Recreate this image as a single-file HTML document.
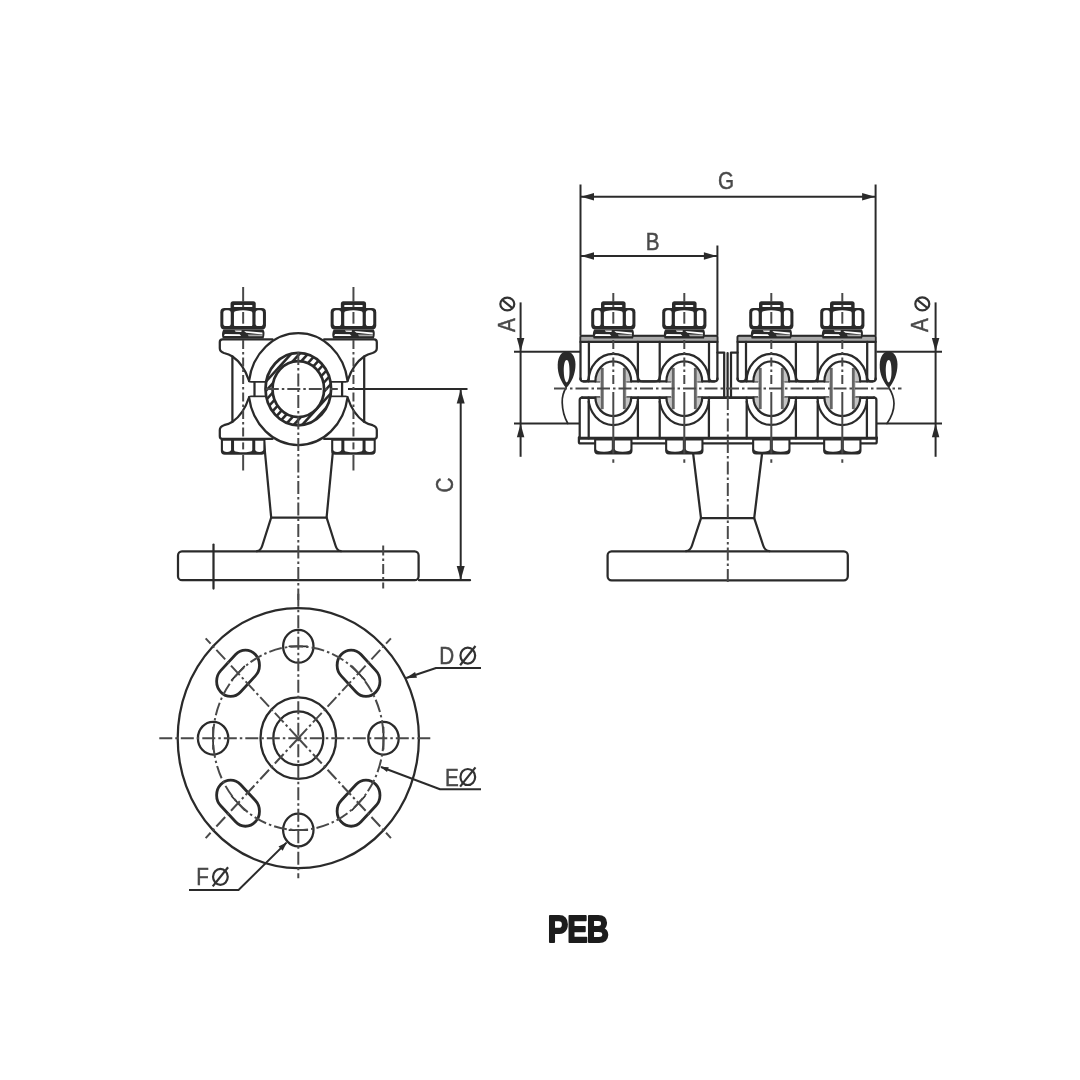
<!DOCTYPE html>
<html><head><meta charset="utf-8"><title>PEB</title>
<style>
html,body{margin:0;padding:0;background:#fff;}
body{width:1080px;height:1080px;overflow:hidden;font-family:"Liberation Sans",sans-serif;}
svg{display:block;}
.m{fill:none;stroke:#2b2b2b;stroke-width:2.25;stroke-linecap:round;stroke-linejoin:round;}
.mb{fill:#fff;stroke:#2b2b2b;stroke-width:2.3;stroke-linecap:round;stroke-linejoin:round;}
.s{fill:none;stroke:#2b2b2b;stroke-width:1.7;stroke-linecap:round;}
.m2{fill:none;stroke:#2b2b2b;stroke-width:2.9;stroke-linecap:round;}
.sg{fill:none;stroke:#666;stroke-width:2.8;}
.g2{fill:#c4c4c4;stroke:none;}
.h{fill:none;stroke:#2b2b2b;stroke-width:2.6;}
.d{fill:none;stroke:#2b2b2b;stroke-width:2.0;stroke-linejoin:round;}
.fill{fill:#2b2b2b;stroke:#2b2b2b;stroke-width:1;}
.g{fill:#9a9a9a;stroke:none;}
.dk{fill:#2b2b2b;stroke:none;}
.wh{fill:#fff;stroke:none;}
.gr{fill:#aaa;stroke:none;}
.a{fill:#2b2b2b;stroke:none;}
.c{fill:none;stroke:#4a4a4a;stroke-width:2.0;stroke-dasharray:13 3 2.5 3;}
.c2{fill:none;stroke:#4a4a4a;stroke-width:2.0;stroke-dasharray:9 3 2.5 3;}
.cd{fill:none;stroke:#4a4a4a;stroke-width:2.0;stroke-dasharray:10 3 2.5 3;}
.cs{fill:none;stroke:#4a4a4a;stroke-width:2.0;}
.nss{vector-effect:non-scaling-stroke;}
.t{font-family:"Liberation Sans",sans-serif;fill:#484848;stroke:#484848;stroke-width:0.45;}
.ts{fill:none;stroke:#333;stroke-width:2.2;}
.peb{font-family:"Liberation Sans",sans-serif;font-weight:bold;fill:#1f1f1f;stroke:#1f1f1f;stroke-width:2.0;stroke-linejoin:round;}
</style></head>
<body>
<svg width="1080" height="1080" viewBox="0 0 1080 1080">
<defs><filter id="bl" x="0" y="0" width="1080" height="1080" filterUnits="userSpaceOnUse"><feGaussianBlur stdDeviation="0.65 0.55"/></filter></defs>
<rect x="0" y="0" width="1080" height="1080" fill="#fff"/>
<g filter="url(#bl)">
<path class="m" d="M264,442 L271.2,517.5 H326.6 L333.8,442" />
<path class="m" d="M271.2,517.5 L262.3,545.5 Q260.8,550.6 257,551.2" />
<path class="m" d="M326.6,517.5 L335.5,545.5 Q337,550.6 340.8,551.2" />
<rect class="m" x="178" y="551.4" width="240.6" height="28.8" rx="4" />
<line class="m" x1="419" y1="580.2" x2="470" y2="580.2" />
<line class="m" x1="213.5" y1="544.5" x2="213.5" y2="588.5" />
<path class="m" d="M324.1,339.3 H374.1 Q376.8,339.3 376.8,342 V348.2 Q376.8,351.5 372.6,353 Q367.6,354.3 364.1,356.5 Q353.1,364 347.8,380.2 Q347.4,381.6 345.6,381.6 H331.4" />
<line class="m" x1="364.2" y1="356.5" x2="364.2" y2="421.8" />
<line class="m" x1="342.1" y1="381.6" x2="342.1" y2="396.7" />
<path class="m" d="M272.5,339.3 H222.5 Q219.8,339.3 219.8,342 V348.2 Q219.8,351.5 224,353 Q229,354.3 232.5,356.5 Q243.5,364 248.8,380.2 Q249.2,381.6 251,381.6 H265.2" />
<line class="m" x1="232.4" y1="356.5" x2="232.4" y2="421.8" />
<line class="m" x1="254.5" y1="381.6" x2="254.5" y2="396.7" />
<path class="mb" d="M249,381 A49.8 55.7 0 0 1 347.6,381"/>
<path class="m" d="M324.1,438.9 H374.1 Q376.8,438.9 376.8,436.2 V430 Q376.8,426.7 372.6,425.2 Q367.6,423.9 364.1,421.7 Q353.1,414.2 347.8,398 Q347.4,396.6 345.6,396.6 H331.4" />
<path class="m" d="M272.5,438.9 H222.5 Q219.8,438.9 219.8,436.2 V430 Q219.8,426.7 224,425.2 Q229,423.9 232.5,421.7 Q243.5,414.2 248.8,398 Q249.2,396.6 251,396.6 H265.2" />
<path class="mb" d="M249,397.2 A49.8 55.7 0 0 0 347.6,397.2"/>
<clipPath id="cpw"><path clip-rule="evenodd" d="M265.5,389.1 a32.8,36.2 0 1,0 65.6,0 a32.8,36.2 0 1,0 -65.6,0 Z M272.5,389.1 a25.8,28 0 1,0 51.6,0 a25.8,28 0 1,0 -51.6,0 Z"/></clipPath>
<g clip-path="url(#cpw)"><line class="h" x1="98.3" y1="455.1" x2="218.3" y2="323.1"/><line class="h" x1="106.7" y1="455.1" x2="226.7" y2="323.1"/><line class="h" x1="115.1" y1="455.1" x2="235.1" y2="323.1"/><line class="h" x1="123.5" y1="455.1" x2="243.5" y2="323.1"/><line class="h" x1="131.9" y1="455.1" x2="251.9" y2="323.1"/><line class="h" x1="140.3" y1="455.1" x2="260.3" y2="323.1"/><line class="h" x1="148.7" y1="455.1" x2="268.7" y2="323.1"/><line class="h" x1="157.1" y1="455.1" x2="277.1" y2="323.1"/><line class="h" x1="165.5" y1="455.1" x2="285.5" y2="323.1"/><line class="h" x1="173.9" y1="455.1" x2="293.9" y2="323.1"/><line class="h" x1="182.3" y1="455.1" x2="302.3" y2="323.1"/><line class="h" x1="190.7" y1="455.1" x2="310.7" y2="323.1"/><line class="h" x1="199.1" y1="455.1" x2="319.1" y2="323.1"/><line class="h" x1="207.5" y1="455.1" x2="327.5" y2="323.1"/><line class="h" x1="215.9" y1="455.1" x2="335.9" y2="323.1"/><line class="h" x1="224.3" y1="455.1" x2="344.3" y2="323.1"/><line class="h" x1="232.7" y1="455.1" x2="352.7" y2="323.1"/><line class="h" x1="241.1" y1="455.1" x2="361.1" y2="323.1"/><line class="h" x1="249.5" y1="455.1" x2="369.5" y2="323.1"/><line class="h" x1="257.9" y1="455.1" x2="377.9" y2="323.1"/><line class="h" x1="266.3" y1="455.1" x2="386.3" y2="323.1"/><line class="h" x1="274.7" y1="455.1" x2="394.7" y2="323.1"/><line class="h" x1="283.1" y1="455.1" x2="403.1" y2="323.1"/><line class="h" x1="291.5" y1="455.1" x2="411.5" y2="323.1"/><line class="h" x1="299.9" y1="455.1" x2="419.9" y2="323.1"/><line class="h" x1="308.3" y1="455.1" x2="428.3" y2="323.1"/><line class="h" x1="316.7" y1="455.1" x2="436.7" y2="323.1"/><line class="h" x1="325.1" y1="455.1" x2="445.1" y2="323.1"/><line class="h" x1="333.5" y1="455.1" x2="453.5" y2="323.1"/><line class="h" x1="341.9" y1="455.1" x2="461.9" y2="323.1"/><line class="h" x1="350.3" y1="455.1" x2="470.3" y2="323.1"/><line class="h" x1="358.7" y1="455.1" x2="478.7" y2="323.1"/><line class="h" x1="367.1" y1="455.1" x2="487.1" y2="323.1"/><line class="h" x1="375.5" y1="455.1" x2="495.5" y2="323.1"/></g>
<ellipse class="m" cx="298.3" cy="389.1" rx="32.8" ry="36.2" style="stroke-width:2.7"/>
<ellipse class="m" cx="298.3" cy="389.1" rx="25.8" ry="28" style="stroke-width:2.7"/>
<path class="dk" d="M230.55,309.5 V303.7 Q230.55,301.2 233.05,301.2 H253.25 Q255.75,301.2 255.75,303.7 V309.5 Z" />
<rect class="wh" x="233.85" y="305.1" width="18.6" height="1.9" rx="0.8" />
<path class="dk" d="M224.55,308 H261.75 Q265.95,308 265.95,312.2 V325.3 Q265.95,329.5 261.75,329.5 H224.55 Q220.35,329.5 220.35,325.3 V312.2 Q220.35,308 224.55,308 Z" />
<rect class="wh" x="223.35" y="310.3" width="7.4" height="15.8" rx="2.6" />
<rect class="wh" x="255.55" y="310.3" width="7.4" height="15.8" rx="2.6" />
<path class="wh" d="M233.95,324.9 V312.7 Q233.95,311.1 236.45,310.9 Q243.15,309.5 249.85,310.9 Q252.35,311.1 252.35,312.7 V324.9 Q252.35,326.1 250.85,326.1 H235.45 Q233.95,326.1 233.95,324.9 Z" />
<path class="dk" d="M223.25,329.4 H263.55 Q265.35,333.2 263.55,338.6 H222.75 Q220.95,334.2 223.25,329.4 Z" />
<path class="wh" d="M223.95,336 L224.75,334 L239.65,334.2 L241.15,336 Z" />
<path class="wh" d="M244.15,331 L262.35,332.6 L262.55,334.4 L246.15,332.8 Z" />
<path class="wh" d="M234.65,330.4 L241.65,330.6 L241.35,332 L235.65,331.8 Z" />
<path class="gr" d="M247.65,334.6 L262.55,334.8 L262.35,336.2 L248.65,336.2 Z" />
<path class="dk" d="M220.85,438.4 V450.7 Q220.85,454.7 224.85,454.7 H261.45 Q265.45,454.7 265.45,450.7 V438.4 Z" />
<path class="wh" d="M222.95,440.8 H231.05 V449.3 Q231.05,451.9 227,451.9 Q222.95,451.9 222.95,449.3 Z" />
<path class="wh" d="M255.25,440.8 H263.35 V449.3 Q263.35,451.9 259.3,451.9 Q255.25,451.9 255.25,449.3 Z" />
<path class="wh" d="M234.05,440.8 H252.25 V449.7 Q252.25,451.5 249.25,451.7 Q243.15,452.8 237.05,451.7 Q234.05,451.5 234.05,449.7 Z" />
<path class="dk" d="M340.85,309.5 V303.7 Q340.85,301.2 343.35,301.2 H363.55 Q366.05,301.2 366.05,303.7 V309.5 Z" />
<rect class="wh" x="344.15" y="305.1" width="18.6" height="1.9" rx="0.8" />
<path class="dk" d="M334.85,308 H372.05 Q376.25,308 376.25,312.2 V325.3 Q376.25,329.5 372.05,329.5 H334.85 Q330.65,329.5 330.65,325.3 V312.2 Q330.65,308 334.85,308 Z" />
<rect class="wh" x="333.65" y="310.3" width="7.4" height="15.8" rx="2.6" />
<rect class="wh" x="365.85" y="310.3" width="7.4" height="15.8" rx="2.6" />
<path class="wh" d="M344.25,324.9 V312.7 Q344.25,311.1 346.75,310.9 Q353.45,309.5 360.15,310.9 Q362.65,311.1 362.65,312.7 V324.9 Q362.65,326.1 361.15,326.1 H345.75 Q344.25,326.1 344.25,324.9 Z" />
<path class="dk" d="M333.55,329.4 H373.85 Q375.65,333.2 373.85,338.6 H333.05 Q331.25,334.2 333.55,329.4 Z" />
<path class="wh" d="M334.25,336 L335.05,334 L349.95,334.2 L351.45,336 Z" />
<path class="wh" d="M354.45,331 L372.65,332.6 L372.85,334.4 L356.45,332.8 Z" />
<path class="wh" d="M344.95,330.4 L351.95,330.6 L351.65,332 L345.95,331.8 Z" />
<path class="gr" d="M357.95,334.6 L372.85,334.8 L372.65,336.2 L358.95,336.2 Z" />
<path class="dk" d="M331.15,438.4 V450.7 Q331.15,454.7 335.15,454.7 H371.75 Q375.75,454.7 375.75,450.7 V438.4 Z" />
<path class="wh" d="M333.25,440.8 H341.35 V449.3 Q341.35,451.9 337.3,451.9 Q333.25,451.9 333.25,449.3 Z" />
<path class="wh" d="M365.55,440.8 H373.65 V449.3 Q373.65,451.9 369.6,451.9 Q365.55,451.9 365.55,449.3 Z" />
<path class="wh" d="M344.35,440.8 H362.55 V449.7 Q362.55,451.5 359.55,451.7 Q353.45,452.8 347.35,451.7 Q344.35,451.5 344.35,449.7 Z" />
<line class="d" x1="348" y1="389.1" x2="467.5" y2="389.1" />
<line class="d" x1="460.7" y1="389.1" x2="460.7" y2="580.2" />
<polygon class="a" points="460.7,389.4 464.7,403.4 456.7,403.4"/>
<polygon class="a" points="460.7,580 456.7,566 464.7,566"/>
<text class="t" transform="translate(452.8 485) rotate(-90) scale(0.88 1)" font-size="23.5" text-anchor="middle">C</text>
<g transform="translate(298.3 738.2) scale(1 1.078)"><circle class="m nss" cx="0" cy="0" r="120.6"/><circle class="m nss" cx="0" cy="0" r="37.8"/><circle class="m nss" cx="0" cy="0" r="25"/><g transform="translate(60.25 60.25) rotate(135)"><rect class="m nss" x="-24.5" y="-14" width="49" height="28" rx="14" style="stroke-width:2.8"/><line class="s nss" x1="-9" y1="0" x2="9" y2="0"/></g><g transform="translate(-60.25 60.25) rotate(225)"><rect class="m nss" x="-24.5" y="-14" width="49" height="28" rx="14" style="stroke-width:2.8"/><line class="s nss" x1="-9" y1="0" x2="9" y2="0"/></g><g transform="translate(-60.25 -60.25) rotate(315)"><rect class="m nss" x="-24.5" y="-14" width="49" height="28" rx="14" style="stroke-width:2.8"/><line class="s nss" x1="-9" y1="0" x2="9" y2="0"/></g><g transform="translate(60.25 -60.25) rotate(405)"><rect class="m nss" x="-24.5" y="-14" width="49" height="28" rx="14" style="stroke-width:2.8"/><line class="s nss" x1="-9" y1="0" x2="9" y2="0"/></g><circle class="m nss" cx="85.2" cy="0" r="15.2"/><line class="s nss" x1="85.2" y1="-10" x2="85.2" y2="10"/><circle class="m nss" cx="0" cy="85.2" r="15.2"/><line class="s nss" x1="-9" y1="85.2" x2="9" y2="85.2"/><circle class="m nss" cx="-85.2" cy="0" r="15.2"/><line class="s nss" x1="-85.2" y1="-10" x2="-85.2" y2="10"/><circle class="m nss" cx="-0" cy="-85.2" r="15.2"/><line class="s nss" x1="-9" y1="-85.2" x2="9" y2="-85.2"/></g>
<path class="d" d="M406.3,678 L436,668 H481" />
<polygon class="a" points="405.6,678.3 415.08,671.96 416.98,677.65"/>
<path class="d" d="M381,767 L440,789.2 H481" />
<polygon class="a" points="380.4,766.8 388.77,767.26 387.02,771.94"/>
<path class="d" d="M189,890 H238.5 L286.5,842.6" />
<polygon class="a" points="287,842.2 282.7,850.66 278.49,846.38"/>
<text class="t" transform="translate(446.6 664.4) scale(0.88 1)" font-size="23.5" text-anchor="middle">D</text>
<g transform="translate(467.8 655.6) rotate(0)"><ellipse class="ts" cx="0" cy="0" rx="7.36" ry="8"/><line class="ts" x1="-7.68" y1="9.6" x2="7.68" y2="-9.6"/></g>
<text class="t" transform="translate(451.8 786) scale(0.88 1)" font-size="23.5" text-anchor="middle">E</text>
<g transform="translate(467.8 777) rotate(0)"><ellipse class="ts" cx="0" cy="0" rx="7.36" ry="8"/><line class="ts" x1="-7.68" y1="9.6" x2="7.68" y2="-9.6"/></g>
<text class="t" transform="translate(202.6 885.2) scale(0.88 1)" font-size="23.5" text-anchor="middle">F</text>
<g transform="translate(220.4 876.8) rotate(0)"><ellipse class="ts" cx="0" cy="0" rx="7.36" ry="8"/><line class="ts" x1="-7.68" y1="9.6" x2="7.68" y2="-9.6"/></g>
<line class="d" x1="580.5" y1="184.5" x2="580.5" y2="335.8" />
<line class="d" x1="875.6" y1="184.5" x2="875.6" y2="335.8" />
<line class="d" x1="717.4" y1="245.5" x2="717.4" y2="335.8" />
<line class="d" x1="580.5" y1="196.8" x2="875.6" y2="196.8" />
<polygon class="a" points="581,196.8 594,193.05 594,200.55"/>
<polygon class="a" points="875.1,196.8 862.1,200.55 862.1,193.05"/>
<line class="d" x1="580.5" y1="256" x2="717.4" y2="256" />
<polygon class="a" points="581,256 594,252.25 594,259.75"/>
<polygon class="a" points="716.9,256 703.9,259.75 703.9,252.25"/>
<text class="t" transform="translate(726 189.2) scale(0.88 1)" font-size="23.5" text-anchor="middle">G</text>
<text class="t" transform="translate(652.6 249.6) scale(0.88 1)" font-size="23.5" text-anchor="middle">B</text>
<path class="m" d="M693.2,454 L701,518.2 H754.2 L762,454" />
<path class="m" d="M701,518.2 L692,545.5 Q690.4,550.6 686,551.2" />
<path class="m" d="M754.2,518.2 L763.2,545.5 Q764.8,550.6 769.4,551.2" />
<rect class="m" x="607.6" y="551.3" width="240.2" height="29" rx="4" />
<path class="m" d="M580.5,379.4 V337.3 Q580.5,335.8 582,335.8 H715.9 Q717.4,335.8 717.4,337.3 V379.4" />
<rect class="g" x="581.5" y="336.8" width="134.9" height="4.6" opacity="0.85"/>
<line class="m" x1="580.5" y1="341.9" x2="717.4" y2="341.9" />
<path class="m" d="M580.5,378.4 Q580.5,381.4 583.5,381.4 H585.5 Q588.7,381.4 588.9,377.4 V341.9" />
<path class="m" d="M717.4,378.4 Q717.4,381.4 714.4,381.4 H712.4 Q709.2,381.4 709,377.4 V341.9" />
<path class="m" d="M637.9,341.9 V376.4 Q637.9,381.4 642.9,381.4 H654.7 Q659.7,381.4 659.7,376.4 V341.9" />
<line class="m" x1="583.5" y1="381.4" x2="600.7" y2="381.4" />
<line class="m" x1="625.9" y1="381.4" x2="671.7" y2="381.4" />
<line class="m" x1="696.9" y1="381.4" x2="714.4" y2="381.4" />
<path class="m" d="M737.6,379.4 V337.3 Q737.6,335.8 739.1,335.8 H874.1 Q875.6,335.8 875.6,337.3 V379.4" />
<rect class="g" x="738.6" y="336.8" width="136" height="4.6" opacity="0.85"/>
<line class="m" x1="737.6" y1="341.9" x2="875.6" y2="341.9" />
<path class="m" d="M737.6,378.4 Q737.6,381.4 740.6,381.4 H742.6 Q745.8,381.4 746,377.4 V341.9" />
<path class="m" d="M875.6,378.4 Q875.6,381.4 872.6,381.4 H870.6 Q867.4,381.4 867.2,377.4 V341.9" />
<path class="m" d="M795.9,341.9 V376.4 Q795.9,381.4 800.9,381.4 H812.7 Q817.7,381.4 817.7,376.4 V341.9" />
<line class="m" x1="740.6" y1="381.4" x2="758.7" y2="381.4" />
<line class="m" x1="783.9" y1="381.4" x2="829.7" y2="381.4" />
<line class="m" x1="854.9" y1="381.4" x2="872.6" y2="381.4" />
<path class="m" d="M579.7,438.3 V400.1 Q579.7,397.6 582.2,397.6" />
<path class="m" d="M876.4,438.3 V400.1 Q876.4,397.6 873.9,397.6" />
<line class="m2" x1="582.2" y1="397.6" x2="600.7" y2="397.6" />
<line class="m2" x1="625.9" y1="397.6" x2="671.7" y2="397.6" />
<line class="m2" x1="696.9" y1="397.6" x2="758.7" y2="397.6" />
<line class="m2" x1="783.9" y1="397.6" x2="829.7" y2="397.6" />
<line class="m2" x1="854.9" y1="397.6" x2="873.9" y2="397.6" />
<line class="m2" x1="579.7" y1="438.3" x2="876.4" y2="438.3" />
<path class="m" d="M578.9,437.3 V441.9 Q578.9,443.4 580.5,443.4 H875.2 Q876.7,443.4 876.7,441.9 V437.3" />
<line class="m" x1="588.7" y1="401.6" x2="588.7" y2="438.3" />
<line class="m" x1="637.9" y1="401.6" x2="637.9" y2="438.3" />
<line class="m" x1="659.7" y1="401.6" x2="659.7" y2="438.3" />
<line class="m" x1="708.9" y1="401.6" x2="708.9" y2="438.3" />
<line class="m" x1="746.7" y1="401.6" x2="746.7" y2="438.3" />
<line class="m" x1="795.9" y1="401.6" x2="795.9" y2="438.3" />
<line class="m" x1="817.7" y1="401.6" x2="817.7" y2="438.3" />
<line class="m" x1="866.9" y1="401.6" x2="866.9" y2="438.3" />
<path class="m" d="M717.4,352.5 H724.2 V397.6" />
<path class="m" d="M737.6,352.5 H731 V397.6" />
<line class="m" x1="727.6" y1="353" x2="727.6" y2="397.6" />
<path class="g2" d="M595.8,381.4 A17.9 20 0 0 1 602.3,365.8 V381.4 Z"/>
<path class="g2" d="M630.8,381.4 A17.9 20 0 0 0 624.3,365.8 V381.4 Z"/>
<path class="g2" d="M595.8,397.6 A17.9 18.3 0 0 0 602.3,411.9 V397.6 Z"/>
<path class="g2" d="M630.8,397.6 A17.9 18.3 0 0 1 624.3,411.9 V397.6 Z"/>
<rect class="g2" x="600.1" y="381.4" width="2.2" height="16.2"/>
<rect class="g2" x="624.3" y="381.4" width="2.2" height="16.2"/>
<line class="sg" x1="602.3" y1="367.9" x2="602.3" y2="409.1" />
<line class="sg" x1="624.3" y1="367.9" x2="624.3" y2="409.1" />
<path class="m" d="M588.5,381.4 A24.8 27.6 0 0 1 638.1,381.4"/>
<path class="m" d="M595.4,381.4 A17.9 20 0 0 1 631.2,381.4"/>
<path class="m" d="M588.5,397.6 A24.8 27.4 0 0 0 638.1,397.6"/>
<path class="m" d="M595.4,397.6 A17.9 18.4 0 0 0 631.2,397.6"/>
<path class="dk" d="M601,309.5 V303.7 Q601,301.2 603.5,301.2 H623.1 Q625.6,301.2 625.6,303.7 V309.5 Z" />
<rect class="wh" x="604.3" y="305.1" width="18" height="1.9" rx="0.8" />
<path class="dk" d="M595.4,308 H631.2 Q635.4,308 635.4,312.2 V325.3 Q635.4,329.5 631.2,329.5 H595.4 Q591.2,329.5 591.2,325.3 V312.2 Q591.2,308 595.4,308 Z" />
<rect class="wh" x="594.2" y="310.3" width="6.5" height="15.8" rx="2.6" />
<rect class="wh" x="625.9" y="310.3" width="6.5" height="15.8" rx="2.6" />
<path class="wh" d="M603.9,324.9 V312.7 Q603.9,311.1 606.4,310.9 Q613.3,309.5 620.2,310.9 Q622.7,311.1 622.7,312.7 V324.9 Q622.7,326.1 621.2,326.1 H605.4 Q603.9,326.1 603.9,324.9 Z" />
<path class="dk" d="M594.1,329.4 H633 Q634.8,333.2 633,338.6 H593.6 Q591.8,334.2 594.1,329.4 Z" />
<path class="wh" d="M594.8,336 L595.6,334 L609.8,334.2 L611.3,336 Z" />
<path class="wh" d="M614.3,331 L631.8,332.6 L632,334.4 L616.3,332.8 Z" />
<path class="wh" d="M604.8,330.4 L611.8,330.6 L611.5,332 L605.8,331.8 Z" />
<path class="gr" d="M617.8,334.6 L632,334.8 L631.8,336.2 L618.8,336.2 Z" />
<path class="dk" d="M594.1,438 V450.5 Q594.1,454.5 598.1,454.5 H628.5 Q632.5,454.5 632.5,450.5 V438 Z" />
<path class="wh" d="M596.2,440.4 H611.8 V449.1 Q611.8,451.7 604,451.7 Q596.2,451.7 596.2,449.1 Z" />
<path class="wh" d="M614.8,440.4 H630.4 V449.1 Q630.4,451.7 622.6,451.7 Q614.8,451.7 614.8,449.1 Z" />
<path class="g2" d="M666.8,381.4 A17.9 20 0 0 1 673.3,365.8 V381.4 Z"/>
<path class="g2" d="M701.8,381.4 A17.9 20 0 0 0 695.3,365.8 V381.4 Z"/>
<path class="g2" d="M666.8,397.6 A17.9 18.3 0 0 0 673.3,411.9 V397.6 Z"/>
<path class="g2" d="M701.8,397.6 A17.9 18.3 0 0 1 695.3,411.9 V397.6 Z"/>
<rect class="g2" x="671.1" y="381.4" width="2.2" height="16.2"/>
<rect class="g2" x="695.3" y="381.4" width="2.2" height="16.2"/>
<line class="sg" x1="673.3" y1="367.9" x2="673.3" y2="409.1" />
<line class="sg" x1="695.3" y1="367.9" x2="695.3" y2="409.1" />
<path class="m" d="M659.5,381.4 A24.8 27.6 0 0 1 709.1,381.4"/>
<path class="m" d="M666.4,381.4 A17.9 20 0 0 1 702.2,381.4"/>
<path class="m" d="M659.5,397.6 A24.8 27.4 0 0 0 709.1,397.6"/>
<path class="m" d="M666.4,397.6 A17.9 18.4 0 0 0 702.2,397.6"/>
<path class="dk" d="M672,309.5 V303.7 Q672,301.2 674.5,301.2 H694.1 Q696.6,301.2 696.6,303.7 V309.5 Z" />
<rect class="wh" x="675.3" y="305.1" width="18" height="1.9" rx="0.8" />
<path class="dk" d="M666.4,308 H702.2 Q706.4,308 706.4,312.2 V325.3 Q706.4,329.5 702.2,329.5 H666.4 Q662.2,329.5 662.2,325.3 V312.2 Q662.2,308 666.4,308 Z" />
<rect class="wh" x="665.2" y="310.3" width="6.5" height="15.8" rx="2.6" />
<rect class="wh" x="696.9" y="310.3" width="6.5" height="15.8" rx="2.6" />
<path class="wh" d="M674.9,324.9 V312.7 Q674.9,311.1 677.4,310.9 Q684.3,309.5 691.2,310.9 Q693.7,311.1 693.7,312.7 V324.9 Q693.7,326.1 692.2,326.1 H676.4 Q674.9,326.1 674.9,324.9 Z" />
<path class="dk" d="M665.1,329.4 H704 Q705.8,333.2 704,338.6 H664.6 Q662.8,334.2 665.1,329.4 Z" />
<path class="wh" d="M665.8,336 L666.6,334 L680.8,334.2 L682.3,336 Z" />
<path class="wh" d="M685.3,331 L702.8,332.6 L703,334.4 L687.3,332.8 Z" />
<path class="wh" d="M675.8,330.4 L682.8,330.6 L682.5,332 L676.8,331.8 Z" />
<path class="gr" d="M688.8,334.6 L703,334.8 L702.8,336.2 L689.8,336.2 Z" />
<path class="dk" d="M665.1,438 V450.5 Q665.1,454.5 669.1,454.5 H699.5 Q703.5,454.5 703.5,450.5 V438 Z" />
<path class="wh" d="M667.2,440.4 H682.8 V449.1 Q682.8,451.7 675,451.7 Q667.2,451.7 667.2,449.1 Z" />
<path class="wh" d="M685.8,440.4 H701.4 V449.1 Q701.4,451.7 693.6,451.7 Q685.8,451.7 685.8,449.1 Z" />
<path class="g2" d="M753.8,381.4 A17.9 20 0 0 1 760.3,365.8 V381.4 Z"/>
<path class="g2" d="M788.8,381.4 A17.9 20 0 0 0 782.3,365.8 V381.4 Z"/>
<path class="g2" d="M753.8,397.6 A17.9 18.3 0 0 0 760.3,411.9 V397.6 Z"/>
<path class="g2" d="M788.8,397.6 A17.9 18.3 0 0 1 782.3,411.9 V397.6 Z"/>
<rect class="g2" x="758.1" y="381.4" width="2.2" height="16.2"/>
<rect class="g2" x="782.3" y="381.4" width="2.2" height="16.2"/>
<line class="sg" x1="760.3" y1="367.9" x2="760.3" y2="409.1" />
<line class="sg" x1="782.3" y1="367.9" x2="782.3" y2="409.1" />
<path class="m" d="M746.5,381.4 A24.8 27.6 0 0 1 796.1,381.4"/>
<path class="m" d="M753.4,381.4 A17.9 20 0 0 1 789.2,381.4"/>
<path class="m" d="M746.5,397.6 A24.8 27.4 0 0 0 796.1,397.6"/>
<path class="m" d="M753.4,397.6 A17.9 18.4 0 0 0 789.2,397.6"/>
<path class="dk" d="M759,309.5 V303.7 Q759,301.2 761.5,301.2 H781.1 Q783.6,301.2 783.6,303.7 V309.5 Z" />
<rect class="wh" x="762.3" y="305.1" width="18" height="1.9" rx="0.8" />
<path class="dk" d="M753.4,308 H789.2 Q793.4,308 793.4,312.2 V325.3 Q793.4,329.5 789.2,329.5 H753.4 Q749.2,329.5 749.2,325.3 V312.2 Q749.2,308 753.4,308 Z" />
<rect class="wh" x="752.2" y="310.3" width="6.5" height="15.8" rx="2.6" />
<rect class="wh" x="783.9" y="310.3" width="6.5" height="15.8" rx="2.6" />
<path class="wh" d="M761.9,324.9 V312.7 Q761.9,311.1 764.4,310.9 Q771.3,309.5 778.2,310.9 Q780.7,311.1 780.7,312.7 V324.9 Q780.7,326.1 779.2,326.1 H763.4 Q761.9,326.1 761.9,324.9 Z" />
<path class="dk" d="M752.1,329.4 H791 Q792.8,333.2 791,338.6 H751.6 Q749.8,334.2 752.1,329.4 Z" />
<path class="wh" d="M752.8,336 L753.6,334 L767.8,334.2 L769.3,336 Z" />
<path class="wh" d="M772.3,331 L789.8,332.6 L790,334.4 L774.3,332.8 Z" />
<path class="wh" d="M762.8,330.4 L769.8,330.6 L769.5,332 L763.8,331.8 Z" />
<path class="gr" d="M775.8,334.6 L790,334.8 L789.8,336.2 L776.8,336.2 Z" />
<path class="dk" d="M752.1,438 V450.5 Q752.1,454.5 756.1,454.5 H786.5 Q790.5,454.5 790.5,450.5 V438 Z" />
<path class="wh" d="M754.2,440.4 H769.8 V449.1 Q769.8,451.7 762,451.7 Q754.2,451.7 754.2,449.1 Z" />
<path class="wh" d="M772.8,440.4 H788.4 V449.1 Q788.4,451.7 780.6,451.7 Q772.8,451.7 772.8,449.1 Z" />
<path class="g2" d="M824.8,381.4 A17.9 20 0 0 1 831.3,365.8 V381.4 Z"/>
<path class="g2" d="M859.8,381.4 A17.9 20 0 0 0 853.3,365.8 V381.4 Z"/>
<path class="g2" d="M824.8,397.6 A17.9 18.3 0 0 0 831.3,411.9 V397.6 Z"/>
<path class="g2" d="M859.8,397.6 A17.9 18.3 0 0 1 853.3,411.9 V397.6 Z"/>
<rect class="g2" x="829.1" y="381.4" width="2.2" height="16.2"/>
<rect class="g2" x="853.3" y="381.4" width="2.2" height="16.2"/>
<line class="sg" x1="831.3" y1="367.9" x2="831.3" y2="409.1" />
<line class="sg" x1="853.3" y1="367.9" x2="853.3" y2="409.1" />
<path class="m" d="M817.5,381.4 A24.8 27.6 0 0 1 867.1,381.4"/>
<path class="m" d="M824.4,381.4 A17.9 20 0 0 1 860.2,381.4"/>
<path class="m" d="M817.5,397.6 A24.8 27.4 0 0 0 867.1,397.6"/>
<path class="m" d="M824.4,397.6 A17.9 18.4 0 0 0 860.2,397.6"/>
<path class="dk" d="M830,309.5 V303.7 Q830,301.2 832.5,301.2 H852.1 Q854.6,301.2 854.6,303.7 V309.5 Z" />
<rect class="wh" x="833.3" y="305.1" width="18" height="1.9" rx="0.8" />
<path class="dk" d="M824.4,308 H860.2 Q864.4,308 864.4,312.2 V325.3 Q864.4,329.5 860.2,329.5 H824.4 Q820.2,329.5 820.2,325.3 V312.2 Q820.2,308 824.4,308 Z" />
<rect class="wh" x="823.2" y="310.3" width="6.5" height="15.8" rx="2.6" />
<rect class="wh" x="854.9" y="310.3" width="6.5" height="15.8" rx="2.6" />
<path class="wh" d="M832.9,324.9 V312.7 Q832.9,311.1 835.4,310.9 Q842.3,309.5 849.2,310.9 Q851.7,311.1 851.7,312.7 V324.9 Q851.7,326.1 850.2,326.1 H834.4 Q832.9,326.1 832.9,324.9 Z" />
<path class="dk" d="M823.1,329.4 H862 Q863.8,333.2 862,338.6 H822.6 Q820.8,334.2 823.1,329.4 Z" />
<path class="wh" d="M823.8,336 L824.6,334 L838.8,334.2 L840.3,336 Z" />
<path class="wh" d="M843.3,331 L860.8,332.6 L861,334.4 L845.3,332.8 Z" />
<path class="wh" d="M833.8,330.4 L840.8,330.6 L840.5,332 L834.8,331.8 Z" />
<path class="gr" d="M846.8,334.6 L861,334.8 L860.8,336.2 L847.8,336.2 Z" />
<path class="dk" d="M823.1,438 V450.5 Q823.1,454.5 827.1,454.5 H857.5 Q861.5,454.5 861.5,450.5 V438 Z" />
<path class="wh" d="M825.2,440.4 H840.8 V449.1 Q840.8,451.7 833,451.7 Q825.2,451.7 825.2,449.1 Z" />
<path class="wh" d="M843.8,440.4 H859.4 V449.1 Q859.4,451.7 851.6,451.7 Q843.8,451.7 843.8,449.1 Z" />
<path class="dk" d="M566.2,387.9 C561.6,383 557.4,374 557.7,365 C557.9,356 562.1,351.2 566.6,351.2 C571.2,351.2 575.5,356 575.5,364.5 C575.5,374 571.6,383 566.2,387.9 Z M566.7,360 C564.4,360 563.7,366 563.8,371.5 C563.9,377 565,381.6 566.7,382.6 C568.5,381.6 569.5,377 569.5,371.5 C569.5,366 568.9,360 566.7,360 Z" fill-rule="evenodd"/>
<path class="s" d="M566.2,387.5 C563.4,392 562,397 562.2,402.5 C562.4,410 564.7,418 567.8,423.5" />
<path class="dk" d="M888.8,387.9 C883.6,383 879.4,374 879.7,365 C879.9,356 884.1,351.2 888.6,351.2 C893.2,351.2 897.5,356 897.5,364.5 C897.5,374 893.6,383 888.8,387.9 Z M888.7,360 C886.4,360 885.7,366 885.8,371.5 C885.9,377 887,381.6 888.7,382.6 C890.5,381.6 891.5,377 891.5,371.5 C891.5,366 890.9,360 888.7,360 Z" fill-rule="evenodd"/>
<path class="s" d="M888.8,387.5 C891.6,392 894,397 894,403.5 C894,410 890.8,418 887,423.5" />
<line class="d" x1="520.6" y1="302.4" x2="520.6" y2="456.8" />
<line class="d" x1="514" y1="351.8" x2="580" y2="351.8" />
<line class="d" x1="514" y1="423.6" x2="580" y2="423.6" />
<polygon class="a" points="520.6,351.6 516.85,338.1 524.35,338.1"/>
<polygon class="a" points="520.6,423.8 524.35,437.3 516.85,437.3"/>
<line class="d" x1="935.6" y1="302.4" x2="935.6" y2="456.8" />
<line class="d" x1="876.4" y1="351.8" x2="942" y2="351.8" />
<line class="d" x1="876.4" y1="423.6" x2="942" y2="423.6" />
<polygon class="a" points="935.6,351.6 931.85,338.1 939.35,338.1"/>
<polygon class="a" points="935.6,423.8 939.35,437.3 931.85,437.3"/>
<text class="t" transform="translate(514.6 325.2) rotate(-90) scale(0.88 1)" font-size="23.5" text-anchor="middle">A</text>
<g transform="translate(507.3 304) rotate(-90)"><ellipse class="ts" cx="0" cy="0" rx="6.44" ry="7"/><line class="ts" x1="-4.03" y1="5.04" x2="4.03" y2="-5.04"/></g>
<text class="t" transform="translate(928.2 325.1) rotate(-90) scale(0.88 1)" font-size="23.5" text-anchor="middle">A</text>
<g transform="translate(922.3 303.9) rotate(-90)"><ellipse class="ts" cx="0" cy="0" rx="6.44" ry="7"/><line class="ts" x1="-4.03" y1="5.04" x2="4.03" y2="-5.04"/></g>
<text class="peb" transform="translate(577.9 941.6) scale(0.815 1)" font-size="37.6" text-anchor="middle" letter-spacing="-1.2">PEB</text>
<line class="c" x1="298.3" y1="352" x2="298.3" y2="600" />
<line class="c" x1="265.8" y1="389.1" x2="337.8" y2="389.1" />
<line class="cs" x1="243.15" y1="287" x2="243.15" y2="302" />
<line class="c2" x1="243.15" y1="340" x2="243.15" y2="438" />
<line class="cs" x1="243.15" y1="455" x2="243.15" y2="470.5" />
<line class="cs" x1="353.45" y1="287" x2="353.45" y2="302" />
<line class="c2" x1="353.45" y1="340" x2="353.45" y2="438" />
<line class="cs" x1="353.45" y1="455" x2="353.45" y2="470.5" />
<line class="cd" x1="383.2" y1="545.5" x2="383.2" y2="588.5" />
<line class="cs" x1="243.15" y1="312" x2="243.15" y2="323.7" />
<line class="cs" x1="243.15" y1="304.7" x2="243.15" y2="307.2" />
<line class="cs" x1="243.15" y1="442.4" x2="243.15" y2="449.4" />
<line class="cs" x1="353.45" y1="312" x2="353.45" y2="323.7" />
<line class="cs" x1="353.45" y1="304.7" x2="353.45" y2="307.2" />
<line class="cs" x1="353.45" y1="442.4" x2="353.45" y2="449.4" />
<g transform="translate(298.3 738.2) scale(1 1.078)"><circle class="c nss" cx="0" cy="0" r="85.2" /><line class="c nss" x1="-139" y1="0" x2="135" y2="0"/><line class="c nss" x1="0" y1="-134" x2="0" y2="130"/><line class="c nss" x1="0" y1="0" x2="92.63" y2="92.63"/><line class="c nss" x1="0" y1="0" x2="-92.63" y2="92.63"/><line class="c nss" x1="0" y1="0" x2="-92.63" y2="-92.63"/><line class="c nss" x1="0" y1="0" x2="92.63" y2="-92.63"/></g>
<line class="c" x1="727.8" y1="397" x2="727.8" y2="584" />
<line class="cs" x1="613.3" y1="293" x2="613.3" y2="302" />
<line class="c2" x1="613.3" y1="340" x2="613.3" y2="386" />
<line class="cs" x1="613.3" y1="392" x2="613.3" y2="453.5" />
<line class="cs" x1="613.3" y1="459.3" x2="613.3" y2="462.8" />
<line class="cs" x1="684.3" y1="293" x2="684.3" y2="302" />
<line class="c2" x1="684.3" y1="340" x2="684.3" y2="386" />
<line class="cs" x1="684.3" y1="392" x2="684.3" y2="453.5" />
<line class="cs" x1="684.3" y1="459.3" x2="684.3" y2="462.8" />
<line class="cs" x1="771.3" y1="293" x2="771.3" y2="302" />
<line class="c2" x1="771.3" y1="340" x2="771.3" y2="386" />
<line class="cs" x1="771.3" y1="392" x2="771.3" y2="453.5" />
<line class="cs" x1="771.3" y1="459.3" x2="771.3" y2="462.8" />
<line class="cs" x1="842.3" y1="293" x2="842.3" y2="302" />
<line class="c2" x1="842.3" y1="340" x2="842.3" y2="386" />
<line class="cs" x1="842.3" y1="392" x2="842.3" y2="453.5" />
<line class="cs" x1="842.3" y1="459.3" x2="842.3" y2="462.8" />
<line class="c" x1="554" y1="388.6" x2="901.5" y2="388.6" />
<line class="cs" x1="613.3" y1="312" x2="613.3" y2="323.7" />
<line class="cs" x1="613.3" y1="304.7" x2="613.3" y2="307.2" />
<line class="cs" x1="684.3" y1="312" x2="684.3" y2="323.7" />
<line class="cs" x1="684.3" y1="304.7" x2="684.3" y2="307.2" />
<line class="cs" x1="771.3" y1="312" x2="771.3" y2="323.7" />
<line class="cs" x1="771.3" y1="304.7" x2="771.3" y2="307.2" />
<line class="cs" x1="842.3" y1="312" x2="842.3" y2="323.7" />
<line class="cs" x1="842.3" y1="304.7" x2="842.3" y2="307.2" />
</g>
</svg>
</body></html>
